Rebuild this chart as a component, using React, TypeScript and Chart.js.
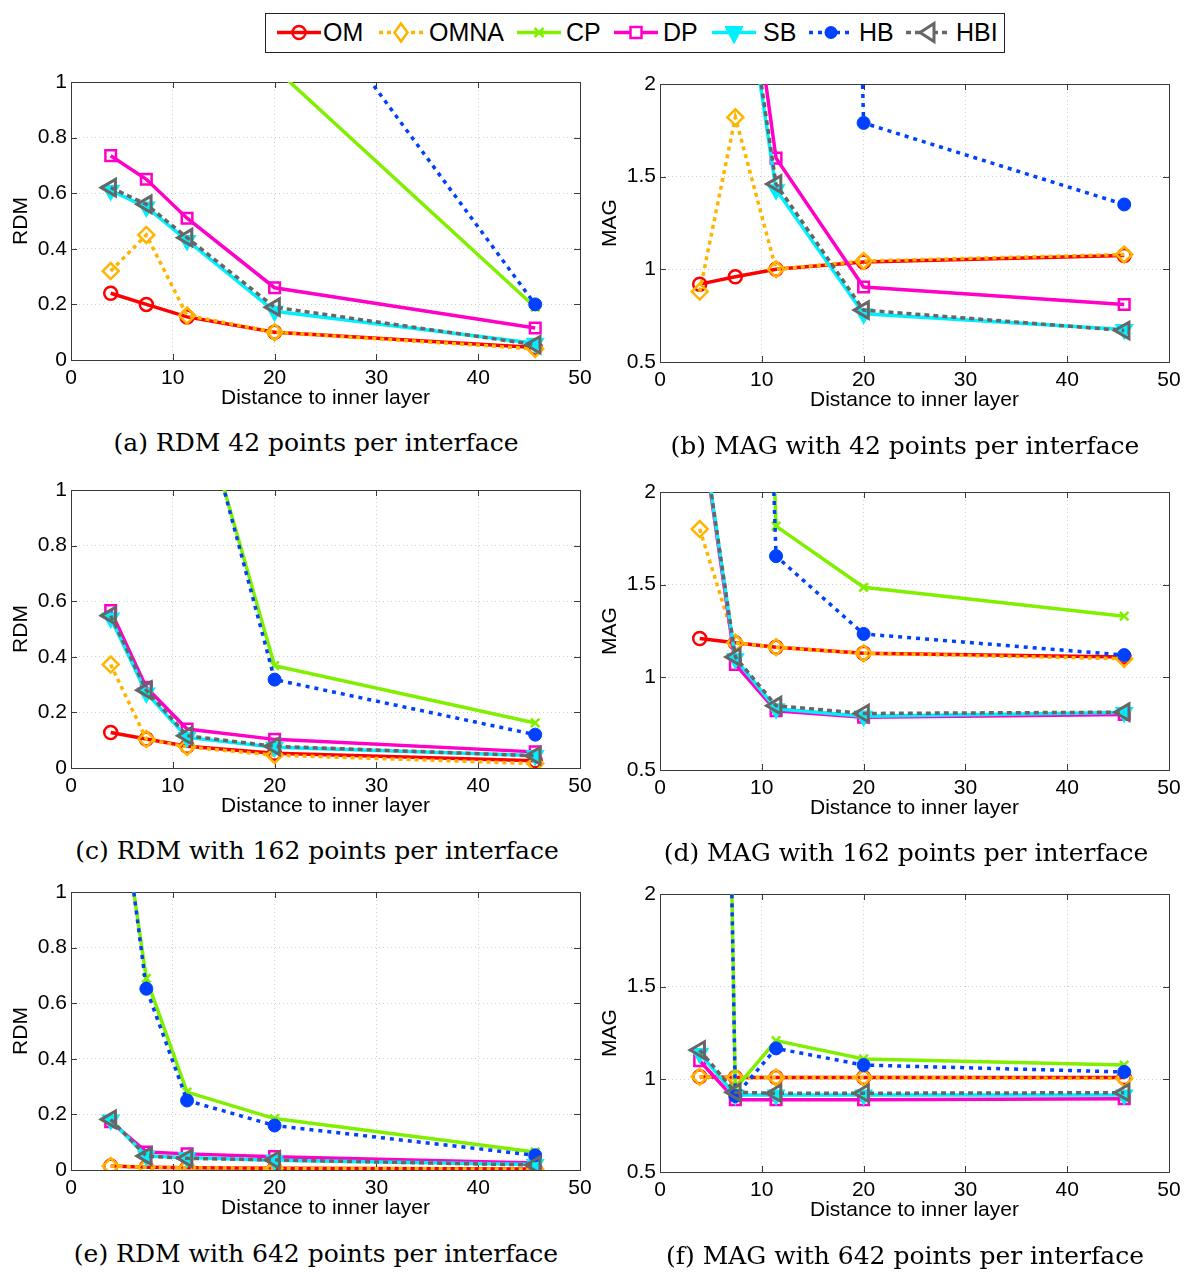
import React, { useEffect, useRef } from "react";
import { Chart, registerables } from "chart.js";

Chart.register(...registerables);

// ---------- DATA ----------
const distances = [3.9, 7.4, 11.4, 20, 45.6];
const seriesNames = ["OM", "OMNA", "CP", "DP", "SB", "HB", "HBI"];
const xTicks = [0, 10, 20, 30, 40, 50];
const rdmTicks = [0, 0.2, 0.4, 0.6, 0.8, 1];
const magTicks = [0.5, 1, 1.5, 2];

// (a) RDM, 42 points
const rdm42OM = [0.24, 0.2, 0.155, 0.1, 0.045];
const rdm42OMNA = [0.32, 0.45, 0.16, 0.1, 0.04];
const rdm42CP = [3.0, 2.2, 1.6, 1.05, 0.19];
const rdm42DP = [0.735, 0.65, 0.51, 0.26, 0.115];
const rdm42SB = [0.61, 0.55, 0.43, 0.175, 0.06];
const rdm42HB = [4.0, 3.0, 2.0, 1.47, 0.2];
const rdm42HBI = [0.62, 0.56, 0.44, 0.19, 0.055];

// (b) MAG, 42 points
const mag42OM = [0.92, 0.96, 1.0, 1.04, 1.075];
const mag42OMNA = [0.88, 1.82, 1.0, 1.045, 1.08];
const mag42CP = [12, 10, 8, 5, 3];
const mag42DP = [5.0, 3.2, 1.6, 0.905, 0.81];
const mag42SB = [4.5, 2.9, 1.43, 0.76, 0.675];
const mag42HB = [30, 25, 20, 1.79, 1.35];
const mag42HBI = [4.5, 2.95, 1.46, 0.78, 0.67];

// (c) RDM, 162 points
const rdm162OM = [0.128, 0.104, 0.078, 0.053, 0.026];
const rdm162OMNA = [0.372, 0.104, 0.076, 0.046, 0.016];
const rdm162CP = [4.0, 3.0, 1.47, 0.368, 0.162];
const rdm162DP = [0.566, 0.29, 0.14, 0.103, 0.058];
const rdm162SB = [0.54, 0.27, 0.11, 0.075, 0.045];
const rdm162HB = [4.0, 3.0, 1.5, 0.318, 0.12];
const rdm162HBI = [0.548, 0.28, 0.116, 0.078, 0.044];

// (d) MAG, 162 points
const mag162OM = [1.21, 1.186, 1.162, 1.13, 1.11];
const mag162OMNA = [1.8, 1.186, 1.162, 1.13, 1.1];
const mag162CP = [10, 8, 1.816, 1.486, 1.33];
const mag162DP = [2.41, 1.07, 0.82, 0.785, 0.8];
const mag162SB = [2.42, 1.1, 0.83, 0.79, 0.81];
const mag162HB = [10, 8, 1.654, 1.234, 1.12];
const mag162HBI = [2.42, 1.11, 0.847, 0.805, 0.812];

// (e) RDM, 642 points
const rdm642OM = [0.014, 0.01, 0.008, 0.006, 0.004];
const rdm642OMNA = [0.014, 0.01, 0.008, 0.006, 0.003];
const rdm642CP = [1.57, 0.689, 0.28, 0.185, 0.065];
const rdm642DP = [0.174, 0.065, 0.058, 0.048, 0.025];
const rdm642SB = [0.18, 0.05, 0.045, 0.035, 0.02];
const rdm642HB = [1.64, 0.652, 0.25, 0.16, 0.053];
const rdm642HBI = [0.182, 0.05, 0.042, 0.036, 0.018];

// (f) MAG, 642 points
const mag642OM = [1.014, 1.01, 1.01, 1.01, 1.01];
const mag642OMNA = [1.014, 1.01, 1.01, 1.01, 1.005];
const mag642CP = [12, 0.95, 1.209, 1.11, 1.077];
const mag642DP = [1.1, 0.89, 0.89, 0.89, 0.895];
const mag642SB = [1.14, 0.915, 0.915, 0.915, 0.915];
const mag642HB = [12, 0.91, 1.167, 1.077, 1.04];
const mag642HBI = [1.158, 0.93, 0.925, 0.925, 0.928];

const captions = [
  "(a) RDM 42 points per interface",
  "(b) MAG with 42 points per interface",
  "(c) RDM with 162 points per interface",
  "(d) MAG with 162 points per interface",
  "(e) RDM with 642 points per interface",
  "(f) MAG with 642 points per interface",
];

// ---------- STYLES ----------
type SStyle = { color: string; dash: number[]; point: string; radius: number; rotation: number; fill: boolean; pbw: number };
const styles: SStyle[] = [
  { color: "#ff0000", dash: [], point: "circle", radius: 6.5, rotation: 0, fill: false, pbw: 2.5 },
  { color: "#ffb400", dash: [4, 4], point: "rectRot", radius: 8, rotation: 0, fill: false, pbw: 2.5 },
  { color: "#80f000", dash: [], point: "crossRot", radius: 6, rotation: 0, fill: false, pbw: 2.5 },
  { color: "#ff00c8", dash: [], point: "rect", radius: 7.5, rotation: 0, fill: false, pbw: 2.5 },
  { color: "#00f0ff", dash: [], point: "triangle", radius: 9, rotation: 180, fill: true, pbw: 2 },
  { color: "#0040ff", dash: [4, 5], point: "circle", radius: 6.5, rotation: 0, fill: true, pbw: 1 },
  { color: "#666666", dash: [5, 4], point: "triangle", radius: 9.5, rotation: 270, fill: false, pbw: 3 },
];
const LINE_W = 3.5;

const boxPlugin = {
  id: "matlabBox",
  beforeDatasetsDraw(chart: any) {
    const { ctx, chartArea: a, scales } = chart;
    ctx.save();
    ctx.strokeStyle = "#3a3a3a";
    ctx.lineWidth = 1;
    ctx.setLineDash([]);
    ctx.strokeRect(a.left + 0.5, a.top + 0.5, a.right - a.left, a.bottom - a.top);
    const tl = 6;
    ctx.beginPath();
    scales.x.ticks.forEach((t: any) => {
      const px = Math.round(scales.x.getPixelForValue(t.value)) + 0.5;
      ctx.moveTo(px, a.bottom);
      ctx.lineTo(px, a.bottom - tl);
      ctx.moveTo(px, a.top);
      ctx.lineTo(px, a.top + tl);
    });
    scales.y.ticks.forEach((t: any) => {
      const py = Math.round(scales.y.getPixelForValue(t.value)) + 0.5;
      ctx.moveTo(a.left, py);
      ctx.lineTo(a.left + tl, py);
      ctx.moveTo(a.right, py);
      ctx.lineTo(a.right - tl, py);
    });
    ctx.stroke();
    ctx.restore();
  },
};

const AXIS_FONT = { family: "'Liberation Sans', Arial, sans-serif", size: 21 };
const PAD_L = 70, PAD_T = 20, PAD_R = 30, PAD_B = 60;
const PLOT_W = 509, PLOT_H = 278;

type PanelProps = { values: number[][]; yTitle: string; yTicks: number[]; plotLeft: number; plotTop: number };

function Panel({ values, yTitle, yTicks, plotLeft, plotTop }: PanelProps) {
  const ref = useRef<HTMLCanvasElement>(null);
  useEffect(() => {
    const chart = new Chart(ref.current as HTMLCanvasElement, {
      type: "line",
      data: {
        datasets: seriesNames.map((name, i) => ({
          label: name,
          data: distances.map((x, j) => ({ x, y: values[i][j] })),
          borderColor: styles[i].color,
          backgroundColor: styles[i].color,
          borderWidth: LINE_W,
          borderDash: styles[i].dash,
          pointStyle: styles[i].point as any,
          pointRadius: styles[i].radius,
          pointRotation: styles[i].rotation,
          pointBorderColor: styles[i].color,
          pointBackgroundColor: styles[i].fill ? styles[i].color : "rgba(0,0,0,0)",
          pointBorderWidth: styles[i].pbw,
          order: 7 - i,
          tension: 0,
          fill: false,
        })),
      },
      options: {
        animation: false,
        responsive: false,
        maintainAspectRatio: false,
        layout: { padding: { left: 0, top: PAD_T, right: PAD_R, bottom: 0 } },
        plugins: { legend: { display: false }, tooltip: { enabled: false } },
        scales: {
          x: {
            type: "linear",
            min: xTicks[0],
            max: xTicks[xTicks.length - 1],
            afterBuildTicks: (s: any) => { s.ticks = xTicks.map((v) => ({ value: v })); },
            afterFit: (s: any) => { s.height = PAD_B; },
            grid: { color: "#cfcfcf", lineWidth: 1, drawTicks: false },
            border: { display: false, dash: [1, 3] },
            ticks: { color: "#000", font: AXIS_FONT, padding: 6, maxRotation: 0, autoSkip: false, callback: (v: any) => String(v) },
            title: { display: true, text: "Distance to inner layer", color: "#000", font: AXIS_FONT, padding: { top: 0, bottom: 9 } },
          },
          y: {
            type: "linear",
            min: yTicks[0],
            max: yTicks[yTicks.length - 1],
            afterBuildTicks: (s: any) => { s.ticks = yTicks.map((v) => ({ value: v })); },
            afterFit: (s: any) => { s.width = PAD_L; },
            grid: { color: "#cfcfcf", lineWidth: 1, drawTicks: false },
            border: { display: false, dash: [1, 3] },
            ticks: { color: "#000", font: AXIS_FONT, padding: 4, autoSkip: false, callback: (v: any) => String(v) },
            title: { display: true, text: yTitle, color: "#000", font: AXIS_FONT, padding: { top: 8, bottom: 0 } },
          },
        },
      },
      plugins: [boxPlugin],
    });
    return () => chart.destroy();
  }, []);
  return (
    <canvas
      ref={ref}
      width={PAD_L + PLOT_W + PAD_R}
      height={PAD_T + PLOT_H + PAD_B}
      style={{ position: "absolute", left: plotLeft - PAD_L, top: plotTop - PAD_T, display: "block" }}
    />
  );
}

function Marker({ i, cx, cy }: { i: number; cx: number; cy: number }) {
  const c = styles[i].color;
  switch (i) {
    case 0:
      return <circle cx={cx} cy={cy} r={6.5} fill="none" stroke={c} strokeWidth={2.5} />;
    case 1:
      return <polygon points={`${cx},${cy - 9} ${cx + 6.5},${cy} ${cx},${cy + 9} ${cx - 6.5},${cy}`} fill="#fff" stroke={c} strokeWidth={2.5} />;
    case 2:
      return (
        <g stroke={c} strokeWidth={2.5}>
          <line x1={cx - 4.5} y1={cy - 4.5} x2={cx + 4.5} y2={cy + 4.5} />
          <line x1={cx - 4.5} y1={cy + 4.5} x2={cx + 4.5} y2={cy - 4.5} />
        </g>
      );
    case 3:
      return <rect x={cx - 5.5} y={cy - 5.5} width={11} height={11} fill="#fff" stroke={c} strokeWidth={2.5} />;
    case 4:
      return <polygon points={`${cx - 9},${cy - 6} ${cx + 9},${cy - 6} ${cx},${cy + 11}`} fill={c} stroke={c} strokeWidth={1} />;
    case 5:
      return <circle cx={cx} cy={cy} r={6.5} fill={c} />;
    default:
      return <polygon points={`${cx - 8},${cy} ${cx + 6},${cy - 9} ${cx + 6},${cy + 9}`} fill="#fff" stroke={c} strokeWidth={3} />;
  }
}

const legendSampleLeft = [10, 112, 250, 347, 445, 542, 639];
const legendTextLeft = [57, 163, 300, 397, 497, 593, 690];

function Legend() {
  return (
    <div
      style={{
        position: "absolute", left: 265, top: 13, width: 740, height: 40,
        border: "1.5px solid #222", boxSizing: "border-box", background: "#fff",
        fontFamily: "'Liberation Sans', Arial, sans-serif", fontSize: 25, color: "#000",
      }}
    >
      {seriesNames.map((name, i) => (
        <React.Fragment key={name}>
          <svg width={46} height={37} style={{ position: "absolute", left: legendSampleLeft[i], top: 0 }}>
            <line x1={1} y1={18.5} x2={45} y2={18.5} stroke={styles[i].color} strokeWidth={LINE_W}
              strokeDasharray={styles[i].dash.length ? styles[i].dash.join(" ") : undefined} />
            <Marker i={i} cx={23} cy={18.5} />
          </svg>
          <span style={{ position: "absolute", left: legendTextLeft[i], top: 0, lineHeight: "37px", whiteSpace: "nowrap" }}>{name}</span>
        </React.Fragment>
      ))}
    </div>
  );
}

const panels = [
  { values: [rdm42OM, rdm42OMNA, rdm42CP, rdm42DP, rdm42SB, rdm42HB, rdm42HBI], yTitle: "RDM", yTicks: rdmTicks, plotLeft: 71, plotTop: 82, capX: 316, capY: 443 },
  { values: [mag42OM, mag42OMNA, mag42CP, mag42DP, mag42SB, mag42HB, mag42HBI], yTitle: "MAG", yTicks: magTicks, plotLeft: 660, plotTop: 84, capX: 905, capY: 446 },
  { values: [rdm162OM, rdm162OMNA, rdm162CP, rdm162DP, rdm162SB, rdm162HB, rdm162HBI], yTitle: "RDM", yTicks: rdmTicks, plotLeft: 71, plotTop: 490, capX: 317, capY: 851 },
  { values: [mag162OM, mag162OMNA, mag162CP, mag162DP, mag162SB, mag162HB, mag162HBI], yTitle: "MAG", yTicks: magTicks, plotLeft: 660, plotTop: 492, capX: 906, capY: 853 },
  { values: [rdm642OM, rdm642OMNA, rdm642CP, rdm642DP, rdm642SB, rdm642HB, rdm642HBI], yTitle: "RDM", yTicks: rdmTicks, plotLeft: 71, plotTop: 892, capX: 316, capY: 1254 },
  { values: [mag642OM, mag642OMNA, mag642CP, mag642DP, mag642SB, mag642HB, mag642HBI], yTitle: "MAG", yTicks: magTicks, plotLeft: 660, plotTop: 894, capX: 905, capY: 1256 },
];

export default function App() {
  return (
    <div style={{ position: "absolute", left: 0, top: 0, width: 1200, height: 1283, background: "#fff", overflow: "hidden" }}>
      <Legend />
      {panels.map((p, k) => (
        <React.Fragment key={k}>
          <Panel values={p.values} yTitle={p.yTitle} yTicks={p.yTicks} plotLeft={p.plotLeft} plotTop={p.plotTop} />
          <div
            style={{
              position: "absolute", left: p.capX - 300, top: p.capY - 15, width: 600, height: 30,
              lineHeight: "30px", textAlign: "center", whiteSpace: "nowrap",
              fontFamily: "'DejaVu Serif', serif", fontSize: 25, color: "#000",
            }}
          >
            {captions[k]}
          </div>
        </React.Fragment>
      ))}
    </div>
  );
}
